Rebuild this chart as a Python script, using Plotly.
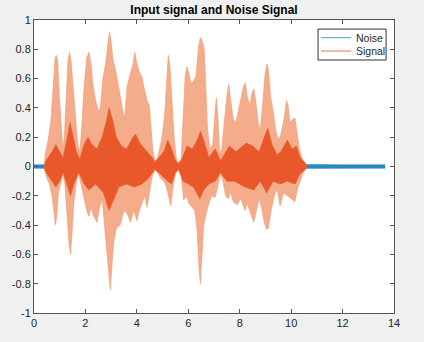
import plotly.graph_objects as go

# ---------------- data ----------------
title_text = "Input signal and Noise Signal"
series_names = ["Noise", "Signal"]

x_tick_vals = [0, 2, 4, 6, 8, 10, 12, 14]
x_tick_text = ["0", "2", "4", "6", "8", "10", "12", "14"]
y_tick_vals = [-1, -0.8, -0.6, -0.4, -0.2, 0, 0.2, 0.4, 0.6, 0.8, 1]
y_tick_text = ["-1", "-0.8", "-0.6", "-0.4", "-0.2", "0", "0.2", "0.4", "0.6", "0.8", "1"]

# noise band (time in s, upper / lower amplitude)
noise_t = [0.0, 1.0, 2.0, 3.0, 4.0, 5.0, 6.0, 7.0, 8.0, 9.0, 10.0, 11.0, 12.0, 13.0, 13.65]
noise_hi = [0.012, 0.013, 0.012, 0.014, 0.012, 0.013, 0.012, 0.013, 0.014, 0.012, 0.013, 0.014, 0.012, 0.013, 0.012]
noise_lo = [-0.012, -0.013, -0.012, -0.014, -0.012, -0.013, -0.012, -0.013, -0.014, -0.012, -0.013, -0.014, -0.012, -0.013, -0.012]

# signal outer envelope: upper peaks
sig_up_t = [0.40, 0.45, 0.55, 0.65, 0.75, 0.82, 0.87, 0.92, 0.98, 1.05, 1.12, 1.18, 1.25, 1.32, 1.38, 1.44,
            1.52, 1.60, 1.70, 1.78, 1.85, 1.95, 2.05, 2.13, 2.20, 2.30, 2.40, 2.50, 2.58, 2.68, 2.80, 2.88,
            2.94, 3.00, 3.08, 3.18, 3.28, 3.40, 3.52, 3.62, 3.72, 3.85, 3.92, 3.98, 4.08, 4.20, 4.30, 4.40,
            4.48, 4.55, 4.63, 4.70, 4.80, 4.88, 4.98, 5.08, 5.16, 5.22, 5.28, 5.36, 5.45, 5.53, 5.62, 5.72,
            5.80, 5.88, 5.95, 6.02, 6.10, 6.20, 6.30, 6.40, 6.47, 6.55, 6.62, 6.68, 6.75, 6.85, 6.95, 7.03,
            7.09, 7.15, 7.22, 7.30, 7.40, 7.50, 7.57, 7.65, 7.75, 7.85, 7.95, 8.05, 8.15, 8.22, 8.30, 8.40,
            8.48, 8.55, 8.62, 8.72, 8.80, 8.88, 8.98, 9.06, 9.12, 9.20, 9.30, 9.40, 9.50, 9.60, 9.72, 9.82,
            9.88, 9.95, 10.05, 10.15, 10.22, 10.32, 10.42, 10.52, 10.60]
sig_up_v = [0.02, 0.10, 0.18, 0.30, 0.55, 0.74, 0.76, 0.72, 0.50, 0.28, 0.12, 0.20, 0.45, 0.72, 0.78, 0.72,
            0.55, 0.35, 0.15, 0.10, 0.25, 0.55, 0.74, 0.78, 0.72, 0.55, 0.45, 0.38, 0.40, 0.60, 0.72, 0.85,
            0.92, 0.85, 0.72, 0.65, 0.55, 0.42, 0.32, 0.55, 0.62, 0.70, 0.78, 0.72, 0.65, 0.61, 0.52, 0.45,
            0.42, 0.25, 0.10, 0.04, 0.05, 0.12, 0.20, 0.35, 0.60, 0.76, 0.70, 0.45, 0.20, 0.06, 0.02, 0.05,
            0.30, 0.62, 0.68, 0.64, 0.57, 0.58, 0.62, 0.82, 0.88, 0.85, 0.80, 0.50, 0.25, 0.12, 0.15, 0.35,
            0.47, 0.35, 0.08, 0.12, 0.32, 0.48, 0.56, 0.45, 0.32, 0.30, 0.38, 0.45, 0.55, 0.57, 0.47, 0.42,
            0.50, 0.53, 0.45, 0.30, 0.25, 0.40, 0.62, 0.70, 0.66, 0.48, 0.38, 0.25, 0.18, 0.22, 0.32, 0.45,
            0.42, 0.30, 0.32, 0.33, 0.25, 0.12, 0.06, 0.03, 0.01]

# signal outer envelope: lower troughs
sig_lo_t = [0.40, 0.50, 0.60, 0.70, 0.78, 0.83, 0.88, 0.95, 1.05, 1.13, 1.20, 1.28, 1.36, 1.42, 1.48, 1.55,
            1.65, 1.74, 1.82, 1.95, 2.05, 2.13, 2.22, 2.32, 2.45, 2.55, 2.65, 2.75, 2.85, 2.92, 2.97, 3.02,
            3.10, 3.20, 3.35, 3.50, 3.62, 3.75, 3.88, 4.00, 4.10, 4.20, 4.30, 4.40, 4.48, 4.58, 4.70, 4.80,
            4.92, 5.05, 5.15, 5.25, 5.32, 5.40, 5.50, 5.62, 5.72, 5.82, 5.92, 6.02, 6.15, 6.25, 6.35, 6.42,
            6.47, 6.52, 6.60, 6.70, 6.80, 6.92, 7.05, 7.15, 7.25, 7.35, 7.45, 7.55, 7.65, 7.75, 7.90, 8.05,
            8.20, 8.30, 8.42, 8.55, 8.65, 8.75, 8.85, 8.95, 9.05, 9.12, 9.22, 9.35, 9.45, 9.57, 9.70, 9.85,
            10.00, 10.15, 10.25, 10.35, 10.45, 10.60]
sig_lo_v = [-0.02, -0.08, -0.12, -0.20, -0.32, -0.40, -0.35, -0.18, -0.10, -0.05, -0.12, -0.30, -0.52, -0.60, -0.45, -0.25,
            -0.10, -0.05, -0.12, -0.22, -0.30, -0.34, -0.28, -0.34, -0.38, -0.28, -0.22, -0.40, -0.60, -0.75, -0.84, -0.70,
            -0.52, -0.42, -0.40, -0.30, -0.32, -0.38, -0.30, -0.37, -0.30, -0.25, -0.20, -0.28, -0.18, -0.08, -0.02, -0.04,
            -0.08, -0.10, -0.14, -0.22, -0.27, -0.15, -0.05, -0.02, -0.05, -0.23, -0.20, -0.25, -0.28, -0.30, -0.45, -0.70,
            -0.80, -0.65, -0.40, -0.32, -0.25, -0.20, -0.21, -0.12, -0.05, -0.10, -0.20, -0.22, -0.18, -0.24, -0.26, -0.22,
            -0.30, -0.25, -0.32, -0.38, -0.30, -0.22, -0.28, -0.38, -0.43, -0.42, -0.30, -0.20, -0.15, -0.27, -0.18, -0.20,
            -0.22, -0.24, -0.15, -0.10, -0.05, -0.01]

# dense core of the signal
core_up_t = [0.40, 0.50, 0.70, 0.85, 1.00, 1.13, 1.30, 1.40, 1.50, 1.65, 1.78, 1.95, 2.10, 2.25, 2.45, 2.65,
             2.80, 2.92, 3.05, 3.20, 3.40, 3.60, 3.85, 3.95, 4.15, 4.40, 4.60, 4.70, 4.85, 5.05, 5.20, 5.35,
             5.50, 5.62, 5.75, 5.95, 6.15, 6.35, 6.47, 6.60, 6.80, 7.05, 7.25, 7.45, 7.60, 7.85, 8.10, 8.25,
             8.50, 8.75, 9.00, 9.10, 9.25, 9.45, 9.60, 9.85, 10.05, 10.20, 10.35, 10.60]
core_up_v = [0.01, 0.05, 0.10, 0.15, 0.10, 0.06, 0.20, 0.30, 0.22, 0.10, 0.05, 0.15, 0.20, 0.15, 0.12, 0.20,
             0.30, 0.40, 0.32, 0.20, 0.14, 0.12, 0.20, 0.22, 0.15, 0.10, 0.06, 0.03, 0.06, 0.10, 0.18, 0.12,
             0.04, 0.02, 0.05, 0.14, 0.12, 0.18, 0.24, 0.18, 0.06, 0.12, 0.04, 0.10, 0.14, 0.10, 0.14, 0.16,
             0.14, 0.10, 0.22, 0.26, 0.15, 0.08, 0.10, 0.18, 0.12, 0.14, 0.06, 0.01]
core_lo_t = [0.40, 0.50, 0.70, 0.85, 1.00, 1.13, 1.30, 1.42, 1.55, 1.74, 1.95, 2.13, 2.40, 2.70, 2.92, 3.10,
             3.30, 3.60, 3.90, 4.20, 4.45, 4.70, 4.90, 5.20, 5.35, 5.50, 5.62, 5.80, 6.00, 6.20, 6.45, 6.60,
             6.80, 7.05, 7.25, 7.50, 7.80, 8.20, 8.55, 8.80, 9.05, 9.30, 9.57, 9.85, 10.15, 10.35, 10.60]
core_lo_v = [-0.01, -0.05, -0.10, -0.14, -0.10, -0.04, -0.14, -0.20, -0.12, -0.04, -0.12, -0.16, -0.12, -0.18, -0.30, -0.22,
             -0.14, -0.12, -0.14, -0.12, -0.08, -0.02, -0.05, -0.10, -0.12, -0.04, -0.02, -0.10, -0.12, -0.14, -0.22, -0.16,
             -0.12, -0.10, -0.04, -0.10, -0.10, -0.14, -0.16, -0.10, -0.18, -0.10, -0.12, -0.10, -0.12, -0.05, -0.01]

# ---------------- styling ----------------
NOISE_COLOR = "#2A86C4"
SIGNAL_COLOR = "#D95319"
SIGNAL_LIGHT = "#F4AC8A"
SIGNAL_CORE = "#E8582A"
AXIS_COLOR = "#555555"
TEXT_COLOR = "#262626"
FONT = "Liberation Sans, Arial, Helvetica, sans-serif"

fig = go.Figure()

# noise band
fig.add_trace(go.Scatter(
    x=noise_t + noise_t[::-1], y=noise_hi + noise_lo[::-1],
    fill="toself", fillcolor=NOISE_COLOR, mode="lines", name=series_names[0],
    line=dict(color=NOISE_COLOR, width=0.5), showlegend=False, hoverinfo="skip"))

# signal outer envelope
fig.add_trace(go.Scatter(
    x=sig_up_t + sig_lo_t[::-1], y=sig_up_v + sig_lo_v[::-1],
    fill="toself", fillcolor=SIGNAL_LIGHT, mode="lines", name=series_names[1],
    line=dict(color="#F09A72", width=0.6), showlegend=False, hoverinfo="skip"))

# signal dense core
fig.add_trace(go.Scatter(
    x=core_up_t + core_lo_t[::-1], y=core_up_v + core_lo_v[::-1],
    fill="toself", fillcolor=SIGNAL_CORE, mode="lines", name=series_names[1],
    line=dict(color=SIGNAL_CORE, width=0.6), showlegend=False, hoverinfo="skip"))

axis_common = dict(
    showline=True, linecolor=AXIS_COLOR, linewidth=1, mirror="ticks",
    ticks="inside", ticklen=4, tickcolor=AXIS_COLOR, tickwidth=1,
    showgrid=False, zeroline=False,
    tickfont=dict(family=FONT, size=11, color=TEXT_COLOR),
)

fig.update_xaxes(range=[0, 14], tickvals=x_tick_vals, ticktext=x_tick_text, **axis_common)
fig.update_yaxes(range=[-1, 1], tickvals=y_tick_vals, ticktext=y_tick_text, **axis_common)

# MATLAB-style compact legend (box, sample lines, labels)
legend_colors = ["#4A9BD1", "#E8784A"]
legend_y = [0.9396, 0.894]
shapes = [dict(type="rect", xref="paper", yref="paper", x0=0.789, x1=0.978, y0=0.8635, y1=0.969,
               fillcolor="#FFFFFF", line=dict(color="#333333", width=1), layer="above")]
annotations = []
for name, col, ly in zip(series_names, legend_colors, legend_y):
    shapes.append(dict(type="line", xref="paper", yref="paper", x0=0.797, x1=0.881, y0=ly, y1=ly,
                       line=dict(color=col, width=1), layer="above"))
    annotations.append(dict(text=name, xref="paper", yref="paper", x=0.888, y=ly,
                            xanchor="left", yanchor="middle", showarrow=False,
                            font=dict(family=FONT, size=10.5, color=TEXT_COLOR)))

fig.update_layout(
    width=424, height=342,
    margin=dict(l=34, r=30, t=20, b=29),
    paper_bgcolor="#F0F0F0", plot_bgcolor="#FFFFFF",
    title=dict(text="<b>" + title_text + "</b>", x=0.5, xref="paper", xanchor="center",
               y=1, yref="container", yanchor="top", pad=dict(t=6),
               font=dict(family=FONT, size=12, color="#000000")),
    shapes=shapes, annotations=annotations,
    showlegend=False,
)

fig.write_html("out.html")
